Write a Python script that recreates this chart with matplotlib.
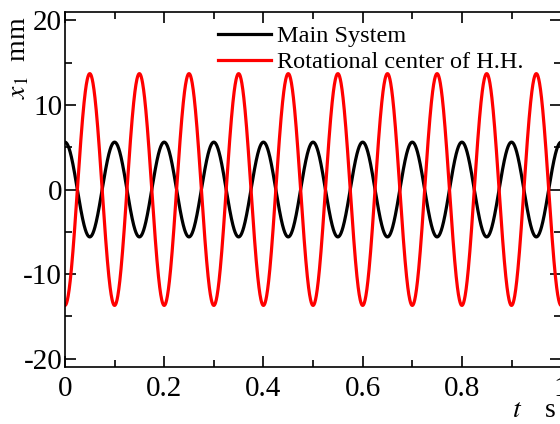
import numpy as np
import matplotlib
matplotlib.use("Agg")
import matplotlib.pyplot as plt
from matplotlib.ticker import MultipleLocator

# Values (steady-state sinusoidal responses)
freq_hz = 10.0                       # 10 cycles over 1 s
main_amplitude = 5.6                 # mm, peak at t = 0
rotc_amplitude = 13.7                # mm, trough at t = 0
series_names = ["Main System", "Rotational center of H.H."]
series_colors = ["black", "red"]
x_ticks = [0, 0.2, 0.4, 0.6, 0.8, 1]
x_tick_labels = ["0", "0.2", "0.4", "0.6", "0.8", "1"]
y_ticks = [-20, -10, 0, 10, 20]
y_tick_labels = ["-20", "-10", "0", "10", "20"]

t = np.linspace(0, 1, 2001)
main_sys = main_amplitude * np.cos(2 * np.pi * freq_hz * t)
rot_center = -rotc_amplitude * np.cos(2 * np.pi * freq_hz * t)

plt.rcParams['font.family'] = ['Liberation Serif', 'DejaVu Serif']
plt.rcParams['mathtext.fontset'] = 'stix'

fig = plt.figure(figsize=(5.6, 4.24), dpi=100)
ax = fig.add_axes([0.116, 0.134, 0.886, 0.838])

ax.plot(t, main_sys, color=series_colors[0], lw=2.3, label=series_names[0])
ax.plot(t, rot_center, color=series_colors[1], lw=2.3, label=series_names[1])

ax.set_xlim(0, 1)
ax.set_ylim(-21, 21)
ax.set_xticks(x_ticks)
ax.set_xticklabels(x_tick_labels)
ax.set_yticks(y_ticks)
ax.set_yticklabels(y_tick_labels)
ax.xaxis.set_minor_locator(MultipleLocator(0.1))
ax.yaxis.set_minor_locator(MultipleLocator(5))
ax.tick_params(which='both', direction='in', top=True, right=True, labelsize=21, width=1.2)
ax.tick_params(which='major', length=8)
ax.tick_params(which='minor', length=5)
ax.tick_params(axis='x', pad=6)
ax.tick_params(axis='y', pad=2)
for s in ax.spines.values():
    s.set_linewidth(1.2)

ax.set_ylabel(r'$x_1$  mm', fontsize=20, labelpad=2)
ax.yaxis.set_label_coords(-0.067, 0.87)
fig.text(0.923, 0.032, r'$t$', fontsize=20, ha='center', va='center')
fig.text(0.982, 0.032, 's', fontsize=20, ha='center', va='center')

leg = ax.legend(loc='upper left', bbox_to_anchor=(0.308, 0.962), frameon=False,
                fontsize=17.5, handlelength=2.18, handletextpad=0.25,
                labelspacing=0.15, borderaxespad=0.0, borderpad=0.0)

fig.savefig('out.png', dpi=100)
